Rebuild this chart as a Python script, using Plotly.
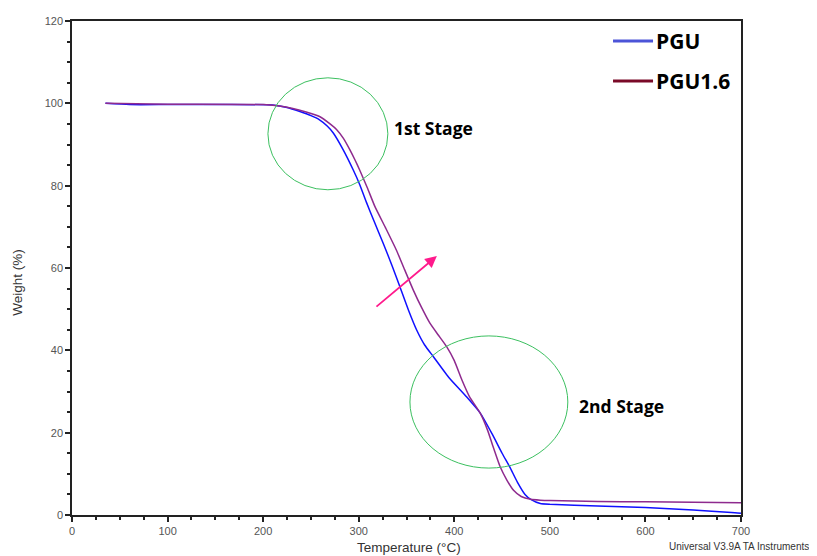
import plotly.graph_objects as go

# Data
temp_pgu = [35, 60, 100, 150, 210, 225, 238.5, 250, 259, 267, 273.4, 283.8, 294.3, 301, 308, 316,
            325.6, 335, 343, 352, 360.5, 369, 378, 395, 412.8, 427, 440, 450, 458, 466, 474, 480,
            490, 500, 550, 600, 650, 690, 700]
w_pgu = [100, 99.7, 99.7, 99.7, 99.6, 99.0, 98.0, 97.0, 96.0, 94.5, 92.8, 88.7, 83.8, 80.3, 76,
         71.4, 66.0, 60.5, 55.5, 49.8, 45.0, 41.3, 38.5, 33.2, 28.7, 24.8, 19.5, 15, 11.7, 8, 5, 3.8,
         2.8, 2.6, 2.2, 1.8, 1.2, 0.6, 0.4]

temp_pgu16 = [35, 100, 200, 215, 230, 245, 259, 270, 277, 284, 290.8, 296, 301, 309, 317, 328,
              339.5, 348, 357, 366, 374.5, 383, 392, 400, 408, 416, 427, 435, 440, 448, 455, 462,
              470, 480, 490, 500, 550, 600, 650, 700]
w_pgu16 = [100, 99.8, 99.7, 99.4, 98.8, 97.9, 96.8, 95.0, 93.6, 91.5, 88.7, 86.3, 83.8, 79.5, 74.9,
           69.8, 64.3, 59.6, 54.7, 50.3, 46.6, 43.8, 40.9, 37.5, 32.8, 28.7, 24.8, 20.5, 17, 11.7, 8.5,
           6, 4.5, 3.8, 3.6, 3.5, 3.3, 3.2, 3.1, 3.0]

series_names = ["PGU", "PGU1.6"]
x_ticks = [0, 100, 200, 300, 400, 500, 600, 700]
y_ticks = [0, 20, 40, 60, 80, 100, 120]

fig = go.Figure()
fig.add_trace(go.Scatter(x=temp_pgu, y=w_pgu, mode="lines", name=series_names[0],
                         line=dict(color="#1010ff", width=1.5, shape="spline", smoothing=0.5)))
fig.add_trace(go.Scatter(x=temp_pgu16, y=w_pgu16, mode="lines", name=series_names[1],
                         line=dict(color="#8e2a8e", width=1.5, shape="spline", smoothing=0.5)))

tickfont = dict(family="Liberation Sans, Arial", size=11, color="#555555")
axis_common = dict(showgrid=False, zeroline=False, showline=True, linecolor="#222222",
                   linewidth=1.5, mirror=True, ticks="outside", ticklen=5, tickcolor="#222222",
                   tickwidth=1.5, tickfont=tickfont, automargin=False)
fig.update_xaxes(range=[0, 700], tickvals=x_ticks,
                 minor=dict(dtick=25, ticks="outside", ticklen=3, tickcolor="#222222", tickwidth=1.5),
                 **axis_common)
fig.update_yaxes(range=[0, 120], tickvals=y_ticks,
                 minor=dict(dtick=5, ticks="outside", ticklen=3, tickcolor="#222222", tickwidth=1.5),
                 **axis_common)

# Stage ellipses
green = "#3cc060"
fig.add_shape(type="circle", xref="x", yref="y", x0=205, x1=330.5, y0=79, y1=106.2,
              line=dict(color=green, width=1))
fig.add_shape(type="circle", xref="x", yref="y", x0=353.6, x1=518.8, y0=11.4, y1=43.5,
              line=dict(color=green, width=1))

labelfont = dict(family="Open Sans, Noto Sans", size=17.5, color="#000000")
fig.add_annotation(x=378.5, y=94, xref="x", yref="y", text="<b>1st Stage</b>", showarrow=False,
                   font=labelfont)
fig.add_annotation(x=575, y=26.5, xref="x", yref="y", text="<b>2nd Stage</b>", showarrow=False,
                   font=labelfont)

# Arrow
fig.add_annotation(x=381.8, y=62.9, ax=317, ay=50.3, xref="x", yref="y", axref="x", ayref="y",
                   text="", showarrow=True, arrowhead=2, arrowsize=1.3, arrowwidth=1.8,
                   arrowcolor="#ff1a8c")

# Custom legend (page body has an 8px offset; figure is sized to fit the window)
legfont = dict(family="Open Sans, Noto Sans", size=21, color="#000000")
leg_colors = ["#4c54d8", "#7a0a28"]
leg_y = [0.9595, 0.8785]
for name, col, yp in zip(series_names, leg_colors, leg_y):
    fig.add_shape(type="line", xref="paper", yref="paper",
                  x0=0.8087, x1=0.8685, y0=yp, y1=yp,
                  line=dict(color=col, width=3))
    fig.add_annotation(x=0.8700, y=yp, xref="paper", yref="paper", text="<b>" + name + "</b>",
                       showarrow=False, xanchor="left", yanchor="middle", font=legfont)

# Axis titles and footer
titlefont = dict(family="Liberation Sans, Arial", size=13.5, color="#333333")
fig.add_annotation(x=-0.0807, y=0.47, xref="paper", yref="paper", text="Weight (%)", textangle=-90,
                   showarrow=False, xanchor="center", yanchor="middle", font=titlefont)
fig.add_annotation(x=0.504, y=-0.066, xref="paper", yref="paper", text="Temperature (°C)",
                   showarrow=False, xanchor="center", yanchor="middle", font=titlefont)
fig.add_annotation(x=1.104, y=-0.064, xref="paper", yref="paper", text="Universal V3.9A TA Instruments",
                   showarrow=False, xanchor="right", yanchor="middle",
                   font=dict(family="Liberation Sans, Arial", size=10, color="#333333"))

fig.update_layout(width=809, height=548, showlegend=False,
                  margin=dict(l=64, r=76, t=13, b=41),
                  paper_bgcolor="white", plot_bgcolor="white")

fig.write_html("out.html")
